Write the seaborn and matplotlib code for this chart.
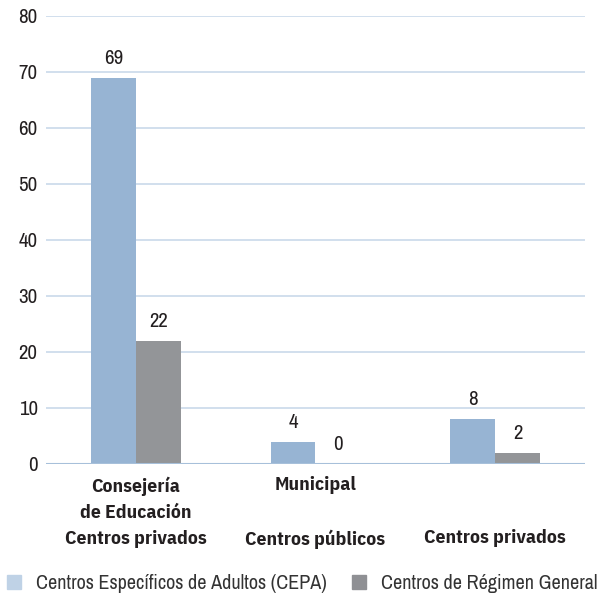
import matplotlib
matplotlib.use("Agg")
import matplotlib.pyplot as plt
import seaborn as sns
import pandas as pd
from matplotlib.lines import Line2D

categories = ["Consejería\nde Educación\nCentros privados", "Municipal\n\nCentros públicos", "\n\nCentros privados"]
series_names = ["Centros Específicos de Adultos (CEPA)", "Centros de Régimen General"]
cepa = [69, 4, 8]
general = [22, 0, 2]
yticks = [0, 10, 20, 30, 40, 50, 60, 70, 80]

bar_colors = ["#97b4d3", "#939598"]
legend_colors = ["#bfd2e6", "#8f9094"]

rows = []
for c, v in zip(categories, cepa):
    rows.append({"cat": c, "serie": series_names[0], "val": v})
for c, v in zip(categories, general):
    rows.append({"cat": c, "serie": series_names[1], "val": v})
df = pd.DataFrame(rows)

sns.set_style("white")
plt.rcParams['font.family'] = ['Archivo Narrow', 'DejaVu Sans']

fig = plt.figure(figsize=(6.03, 5.96), dpi=100)
ax = fig.add_axes([0.0763, 0.2215, 0.8937, 0.7517])

sns.barplot(data=df, x="cat", y="val", hue="serie", palette=bar_colors,
            width=0.5, saturation=1, ax=ax, legend=False, zorder=3, linewidth=0)

ax.set_ylim(0, 80)
ax.set_xlim(-0.5, 2.5)
ax.set_yticks(yticks)
ax.set_yticklabels([str(t) for t in yticks], fontsize=15, color="#231f20")
ax.grid(axis="y", color="#c9d9ea", linewidth=1.2, zorder=0)
ax.axhline(0, color="#a7c0da", linewidth=1.5, zorder=4)
for s in ax.spines.values():
    s.set_visible(False)
ax.tick_params(axis="both", length=0)
ax.tick_params(axis="y", pad=6)
ax.tick_params(axis="x", pad=9)
ax.set_xlabel("")
ax.set_ylabel("")
ax.set_xticks(range(len(categories)))
ax.set_xticklabels(categories, fontsize=14, fontweight="bold", color="#231f20",
                   linespacing=1.58, family=['IBM Plex Sans Condensed', 'DejaVu Sans'])

for cont in ax.containers:
    ax.bar_label(cont, fmt="%d", padding=7, fontsize=15, color="#231f20")

handles = [Line2D([], [], marker="s", linestyle="", markersize=10, color=c) for c in legend_colors]
fig.legend(handles, series_names, loc="lower center", bbox_to_anchor=(0.5, -0.025), ncol=2,
           frameon=False, fontsize=14.5, handlelength=0.8, handletextpad=0.7, columnspacing=1.2,
           labelcolor="#333333")

fig.savefig("out.png", dpi=100)
